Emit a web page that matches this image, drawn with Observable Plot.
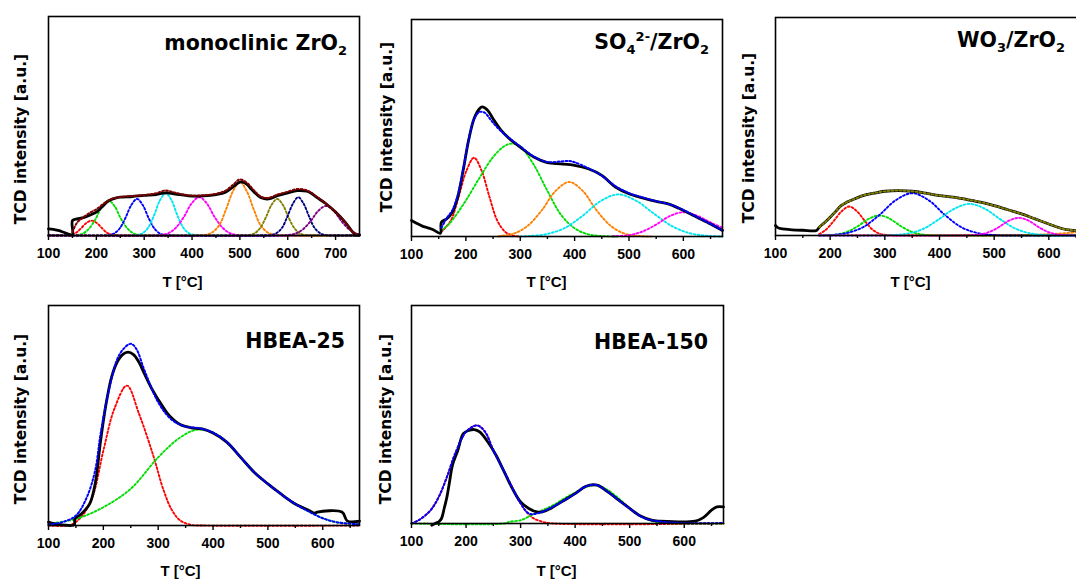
<!DOCTYPE html>
<html><head><meta charset="utf-8">
<script src="https://cdn.jsdelivr.net/npm/d3@7"></script>
<script src="https://cdn.jsdelivr.net/npm/@observablehq/plot@0.6"></script>
<style>
html,body{margin:0;padding:0;background:#fff;overflow:hidden;}
#wrap{position:relative;width:1076px;height:579px;overflow:hidden;background:#fff;}
#wrap > div{position:absolute;}
</style></head><body><div id="wrap"></div>
<script>
// ---------- tick labels ----------
const ticksMono = [100,200,300,400,500,600,700];
const minorMono = [150,250,350,450,550,650];
const ticksStd = [100,200,300,400,500,600];
const minorStd = [150,250,350,450,550,650];
const yLabel = "TCD intensity [a.u.]";
const xLabel = "T [°C]";

// ---------- titles ----------
const title1 = [["monoclinic ZrO","n"],["2","sub"]];
const title2 = [["SO","n"],["4","sub"],["2-","sup"],["/ZrO","n"],["2","sub"]];
const title3 = [["WO","n"],["3","sub"],["/ZrO","n"],["2","sub"]];
const title4 = [["HBEA-25","n"]];
const title5 = [["HBEA-150","n"]];

// ---------- monoclinic ZrO2 ----------
const monoMeasured = [[100,3.0],[110,2.8],[120,2.3],[130,1.6],[140,0.8],[150,0.3],[150,6.8],[160,7.6],[170,8.0],[180,8.7],[190,9.6],[200,10.7],[208,12.2],[215,13.7],[222,15.2],[230,16.3],[240,17.1],[250,17.5],[275,17.8],[300,18.3],[325,18.7],[340,19.4],[350,19.5],[362,19.0],[375,18.7],[400,18.0],[425,18.1],[450,18.7],[470,19.8],[485,22.1],[500,24.4],[508,24.2],[515,23.3],[522,21.6],[530,19.8],[545,17.2],[560,16.7],[580,18.3],[600,19.5],[620,20.5],[640,20.2],[650,19.2],[660,17.5],[680,14.5],[700,10.7],[720,6.1],[735,1.8],[742,0.3],[750,0.3]];
const monoFit = [[150,1.5],[160,6.0],[170,7.8],[180,9.5],[190,10.8],[200,12],[215,14.5],[230,16.5],[250,17.6],[275,18],[300,18.5],[325,19.3],[345,20.6],[360,19.8],[375,19],[400,18.2],[425,18.4],[450,19],[470,20.5],[485,23],[500,25.6],[515,24],[530,20.5],[545,17.6],[560,17.2],[580,18.8],[600,20],[620,21.2],[640,20.6],[660,17.8],[680,14.5],[700,10.7],[720,6.1],[735,1.8],[745,0.3]];
const monoRed = [[100,0],[136,0.1],[147,0.4],[158,1.3],[168,3.3],[179,5.7],[190,6.8],[201,5.7],[212,3.3],[222,1.3],[233,0.4],[244,0.1],[260,0],[750,0]];
const monoGreen = [[100,0],[159,0.2],[172,0.9],[185,3.2],[199,7.8],[212,13.4],[225,16],[238,13.4],[251,7.8],[265,3.2],[278,0.9],[291,0.2],[310,0],[750,0]];
const monoBlue = [[100,0],[210,0],[225,0.2],[237,0.9],[249,3.3],[261,8.1],[273,13.9],[285,16.7],[297,13.9],[309,8.1],[321,3.3],[333,0.9],[345,0.2],[360,0],[750,0]];
const monoCyan = [[100,0],[270,0],[285,0.2],[297,1.1],[309,3.8],[321,9.4],[333,16.1],[345,19.3],[357,16.1],[369,9.4],[381,3.8],[393,1.1],[405,0.2],[420,0],[750,0]];
const monoMagenta = [[100,0],[315,0],[334,0.2],[350,1.0],[366,3.5],[383,8.5],[399,14.6],[415,17.5],[431,14.6],[447,8.5],[464,3.5],[480,1.0],[496,0.2],[515,0],[750,0]];
const monoOrange = [[100,0],[410,0],[428,0.3],[442,1.4],[457,4.8],[471,11.9],[486,20.4],[500,24.4],[514,20.4],[529,11.9],[543,4.8],[558,1.4],[572,0.3],[590,0],[750,0]];
const monoOlive = [[100,0],[503,0],[518,0.2],[530,0.9],[542,3.3],[554,8.1],[566,13.9],[578,16.7],[590,13.9],[602,8.1],[614,3.3],[626,0.9],[638,0.2],[655,0],[750,0]];
const monoNavy = [[100,0],[550,0],[565,0.2],[576,1.0],[588,3.5],[599,8.5],[611,14.6],[622,17.5],[633,14.6],[645,8.5],[656,3.5],[668,1.0],[679,0.2],[695,0],[750,0]];
const monoPurple = [[100,0],[580,0],[599,0.15],[615,0.8],[631,2.7],[648,6.6],[664,11.3],[680,13.5],[696,11.3],[712,6.6],[729,2.7],[745,0.8],[750,0.5]];

// ---------- SO4/ZrO2 ----------
const so4Measured = [[100,7.4],[110,6.0],[120,4.8],[130,4.0],[140,3.1],[153,1.5],[155,6.6],[165,8.2],[175,11.2],[185,18.2],[195,30.5],[205,44.3],[215,54.3],[225,58.9],[230,59.7],[240,58.2],[250,54.3],[265,48.9],[280,45.1],[300,41.2],[325,36.6],[350,34.0],[375,33.5],[400,32.8],[425,31.2],[450,28.2],[475,22.8],[500,19.7],[525,17.8],[550,16.2],[575,14.8],[600,12.0],[625,8.9],[650,5.8],[672,2.8]];
const so4Fit = [[155,4],[165,8.5],[175,12],[185,19],[195,31],[205,44.5],[215,54],[225,57.4],[235,57],[245,54],[255,51],[265,48.5],[280,45.3],[300,41.5],[325,36.8],[350,34.3],[375,34.6],[390,34.8],[400,34.2],[425,31.5],[450,28],[475,23.2],[500,20],[525,18],[550,16.3],[575,14.8],[600,12.2],[625,9.0],[650,5.8],[672,2.8]];
const so4Red = [[155,2.2],[172,7.2],[186,17.7],[201,30.3],[215,36.3],[229,30.3],[244,17.7],[258,7.2],[273,2.0],[287,0.4],[300,0]];
const so4Green = [[155,2.8],[170,6],[185,11],[200,16.6],[225,27],[250,36.6],[270,41.5],[285,42.8],[300,41.5],[325,33],[350,21],[375,10],[400,3.8],[425,1],[450,0.2],[480,0]];
const so4Orange = [[260,0],[264,0.3],[289,1.4],[314,5.0],[340,12.2],[365,21],[390,25.1],[415,21],[440,12.2],[466,5.0],[491,1.4],[516,0.3],[540,0]];
const so4Cyan = [[300,0],[315,0.2],[348,1.1],[381,3.8],[414,9.4],[447,16.2],[480,19.4],[513,16.5],[546,10.5],[579,4.8],[612,1.5],[645,0.3],[672,0]];
const so4Magenta = [[470,0.1],[499,0.6],[524,2.2],[550,5.5],[575,9.4],[600,11.2],[625,9.6],[650,6.5],[672,4.0]];

// ---------- WO3/ZrO2 ----------
const wo3Measured = [[100,4.6],[105,3.5],[110,3.1],[130,2.6],[150,2.4],[175,2.3],[180,3.8],[190,6.0],[200,8.4],[210,11.0],[220,13.7],[230,15.2],[240,16.3],[260,18.3],[280,19.4],[300,20.3],[325,20.6],[350,20.3],[375,19.4],[400,18.3],[425,17.6],[450,16.5],[475,15.3],[500,13.7],[525,11.8],[550,9.9],[575,7.6],[600,5.3],[625,3.1],[640,2.5],[655,2.3]];
const wo3Fit = [[180,3.8],[190,6.0],[200,8.4],[210,11.0],[220,13.7],[230,15.2],[240,16.3],[260,18.3],[280,19.4],[300,20.3],[325,20.6],[350,20.3],[375,19.4],[400,18.3],[425,17.6],[450,16.5],[475,15.3],[500,13.7],[525,11.8],[550,9.9],[575,7.6],[600,5.3],[625,3.1],[640,2.5],[655,2.3]];
const wo3Red = [[180,0.6],[192,2.6],[206,6.5],[221,11.1],[235,13.3],[249,11.1],[264,6.5],[278,2.6],[292,0.7],[307,0.15],[330,0],[655,0]];
const wo3Green = [[180,0],[194,0.1],[213,0.5],[232,1.8],[252,4.5],[271,7.7],[290,9.2],[309,7.7],[328,4.5],[348,1.8],[367,0.5],[386,0.1],[405,0],[655,0]];
const wo3Blue = [[180,0],[200,0.2],[230,1.1],[260,3.8],[290,9.4],[320,16.2],[350,19.4],[380,16.2],[410,9.4],[440,3.8],[470,1.1],[500,0.2],[530,0],[655,0]];
const wo3Cyan = [[180,0],[290,0],[311,0.16],[340,0.8],[369,2.9],[397,7.1],[426,12.1],[455,14.5],[484,12.1],[513,7.1],[541,2.9],[570,0.8],[599,0.16],[625,0],[655,0]];
const wo3Magenta = [[180,0],[435,0],[455,0.1],[473,0.45],[491,1.6],[509,3.9],[527,6.8],[545,8.1],[563,6.8],[581,3.9],[599,1.6],[617,0.45],[635,0.1],[655,0]];
const wo3Orange = [[180,0.2],[450,0.2],[560,0.3],[610,0.7],[655,1.6]];

// ---------- HBEA-25 ----------
const b25Measured = [[100,1.5],[110,0.8],[125,0.3],[147,0.3],[148,3.0],[160,5.3],[175,9.8],[185,18.9],[195,38.6],[205,55.3],[215,67.4],[225,74.2],[235,77.7],[245,78.8],[255,77.7],[265,74.2],[275,68.9],[290,61.4],[305,55.3],[320,50.0],[340,45.9],[360,44.4],[380,43.9],[400,42.0],[425,37.9],[450,31.1],[475,24.2],[500,18.9],[525,14.1],[550,9.8],[575,6.8],[585,5.6],[590,6.1],[635,6.1],[645,2.0],[667,2.0]];
const b25Fit = [[100,0.5],[125,1.5],[150,4.5],[170,12.9],[185,25],[195,41.7],[210,61.4],[230,78],[250,82.6],[260,80.3],[275,70.5],[300,56],[325,48],[350,45],[375,44.2],[400,42.2],[425,38],[450,31.1],[475,24.2],[500,18.9],[525,14.1],[550,9.8],[575,6.3],[600,3.3],[625,1.5],[667,0.5]];
const b25Red = [[100,0],[140,0.3],[160,4],[180,12.9],[200,34],[220,53],[243,63.6],[265,50.8],[290,32.6],[310,15.9],[325,7],[340,2.3],[360,0.3],[380,0],[667,0]];
const b25Green = [[100,0.8],[150,3],[200,8.3],[250,16.7],[300,31],[340,40],[370,43.5],[400,42.2],[425,38],[450,31.1],[475,24.2],[500,18.9],[525,14.1],[550,9.8],[575,6.3],[600,3.3],[625,1.5],[667,0.5]];

// ---------- HBEA-150 ----------
const b150Measured = [[137,-0.8],[145,0.2],[150,0.8],[155,2.3],[160,7],[165,12.2],[170,19.5],[175,26.7],[185,33.6],[195,41.2],[205,42.7],[215,43.1],[225,42.0],[240,37.4],[255,31.3],[270,23.7],[285,16.0],[300,9.9],[315,6.9],[330,5.3],[340,5.3],[355,6.9],[375,9.9],[400,13.7],[420,17.1],[440,17.6],[460,14.5],[480,10.7],[500,6.9],[520,3.4],[540,1.5],[555,1.1],[620,1.1],[635,2.7],[650,6.1],[660,7.6],[672,7.6]];
const b150Fit = [[100,0],[115,1.8],[135,6.1],[150,12.2],[165,21.4],[180,32],[200,42],[220,45],[235,42],[250,33.6],[275,21.4],[300,9.2],[315,4.6],[330,4.6],[350,6.5],[375,9.9],[400,13.7],[420,17.1],[440,17.6],[460,14.5],[480,10.7],[500,6.9],[525,2.7],[550,1.1],[600,0.2],[672,0.2]];
const b150Red = [[100,0],[115,1.8],[135,6.1],[150,12.2],[165,21.4],[180,32],[200,42],[220,45],[235,42],[250,33.6],[275,21.4],[300,9.2],[320,3],[340,0.8],[360,0],[672,0]];
const b150Green = [[100,0],[270,0],[280,0.8],[300,1.5],[320,3.8],[340,6.1],[360,8.4],[380,11.5],[400,14.2],[420,16.8],[440,17.6],[460,15.3],[480,11.5],[500,6.9],[520,3.4],[540,1.2],[560,0.3],[600,0],[672,0]];

// ---------- colours ----------
const C = {red:"#ff0000", green:"#00dd00", blue:"#0000ff", cyan:"#00e6f0", magenta:"#ff00ff", orange:"#ff8000", olive:"#808000", navy:"#000080", purple:"#800080", wine:"#800000"};

const panels = [
  {left:0, top:0, width:362, height:292, mL:48, mR:3, mT:16, mB:57, domain:[100,750], major:ticksMono, minor:minorMono,
   comps:[[monoRed,C.red],[monoGreen,C.green],[monoBlue,C.blue],[monoCyan,C.cyan],[monoMagenta,C.magenta],[monoOrange,C.orange],[monoOlive,C.olive],[monoNavy,C.navy],[monoPurple,C.purple]],
   measured:monoMeasured, fit:monoFit, fitColor:C.wine, title:title1, tx:347, ty:50, ylx:-27.5, yly:122.5, xlx:134, xly:270},
  {left:365, top:0, width:360, height:292, mL:46, mR:3, mT:19, mB:56, domain:[100,672], major:ticksStd, minor:minorStd,
   comps:[[so4Red,C.red],[so4Green,C.green],[so4Orange,C.orange],[so4Cyan,C.cyan],[so4Magenta,C.magenta]],
   measured:so4Measured, fit:so4Fit, fitColor:C.blue, title:title2, tx:344, ty:49, ylx:-24.5, yly:107.5, xlx:135, xly:267},
  {left:728, top:0, width:352, height:292, mL:47, mR:1.6, mT:17, mB:57, domain:[100,655], major:ticksStd, minor:minorStd,
   comps:[[wo3Orange,C.orange],[wo3Red,C.red],[wo3Green,C.green],[wo3Blue,C.blue],[wo3Cyan,C.cyan],[wo3Magenta,C.magenta]],
   measured:wo3Measured, fit:wo3Fit, fitColor:C.olive, title:title3, tx:337, ty:47, ylx:-26.5, yly:120.5, xlx:135, xly:269},
  {left:0, top:290, width:362, height:289, mL:48, mR:3, mT:15, mB:54, domain:[100,667], major:ticksStd, minor:minorStd,
   comps:[[b25Red,C.red],[b25Green,C.green]],
   measured:b25Measured, fit:b25Fit, fitColor:C.blue, title:title4, tx:345, ty:58, ylx:-27, yly:113.5, xlx:132, xly:270},
  {left:365, top:290, width:360, height:289, mL:46, mR:2, mT:15, mB:56, domain:[100,672], major:ticksStd, minor:minorStd,
   comps:[[b150Red,C.red],[b150Green,C.green]],
   measured:b150Measured, fit:b150Fit, fitColor:C.blue, title:title5, tx:343, ty:59, ylx:-25.5, yly:113.5, xlx:145, xly:270}
];

const wrap = document.getElementById("wrap");
const X = d => d[0], Y = d => d[1];
const dots = "1.8,2.2";

for (const p of panels) {
  const marks = [];
  for (const [data, color] of p.comps) {
    marks.push(Plot.line(data, {x: X, y: Y, stroke: color, strokeWidth: 1.9, strokeDasharray: dots, curve: "catmull-rom"}));
  }
  marks.push(Plot.line(p.measured, {x: X, y: Y, stroke: "black", strokeWidth: 2.8, curve: "catmull-rom"}));
  marks.push(Plot.line(p.fit, {x: X, y: Y, stroke: p.fitColor, strokeWidth: 2, strokeDasharray: dots, curve: "catmull-rom"}));
  marks.push(Plot.frame({stroke: "black", strokeWidth: 1.6}));
  marks.push(Plot.axisX(p.major, {tickSize: 5, tickPadding: 8, strokeWidth: 1.4, fontSize: 14, fontWeight: "bold", fontFamily: "Liberation Sans, Arial, sans-serif", fill: "black", tickFormat: d => String(d), label: null}));
  marks.push(Plot.axisX(p.minor, {tickSize: 3, strokeWidth: 1.4, tickFormat: () => "", label: null}));
  marks.push(Plot.text([yLabel], {text: d => d, frameAnchor: "top-left", textAnchor: "middle", lineAnchor: "middle", dx: p.ylx, dy: p.yly, rotate: -90, fontSize: 15.5, fontWeight: "bold", fontFamily: "DejaVu Sans, sans-serif", fill: "black"}));
  marks.push(Plot.text([xLabel], {text: d => d, frameAnchor: "top-left", textAnchor: "middle", lineAnchor: "bottom", dx: p.xlx, dy: p.xly, fontSize: 15, fontWeight: "bold", fontFamily: "Liberation Sans, Arial, sans-serif", fill: "black"}));

  const svg = Plot.plot({
    width: p.width, height: p.height,
    marginLeft: p.mL, marginRight: p.mR, marginTop: p.mT, marginBottom: p.mB,
    x: {domain: p.domain},
    y: {domain: [0, 100], axis: null},
    style: {background: "transparent", maxWidth: "none", overflow: "visible", color: "black"},
    marks
  });

  const t = d3.select(svg).append("text")
    .attr("x", p.tx).attr("y", p.ty)
    .attr("text-anchor", "end")
    .attr("font-family", "DejaVu Sans, sans-serif")
    .attr("font-weight", "bold")
    .attr("font-size", 20.5)
    .attr("fill", "black");
  let cur = 0;
  for (const [s, kind] of p.title) {
    const target = kind === "sub" ? 5 : kind === "sup" ? -8 : 0;
    t.append("tspan").attr("dy", target - cur).attr("font-size", kind === "n" ? 20.5 : 13).text(s);
    cur = target;
  }

  const div = document.createElement("div");
  div.style.left = p.left + "px";
  div.style.top = p.top + "px";
  div.style.width = p.width + "px";
  div.style.height = p.height + "px";
  div.appendChild(svg);
  wrap.appendChild(div);
}
</script></body></html>
